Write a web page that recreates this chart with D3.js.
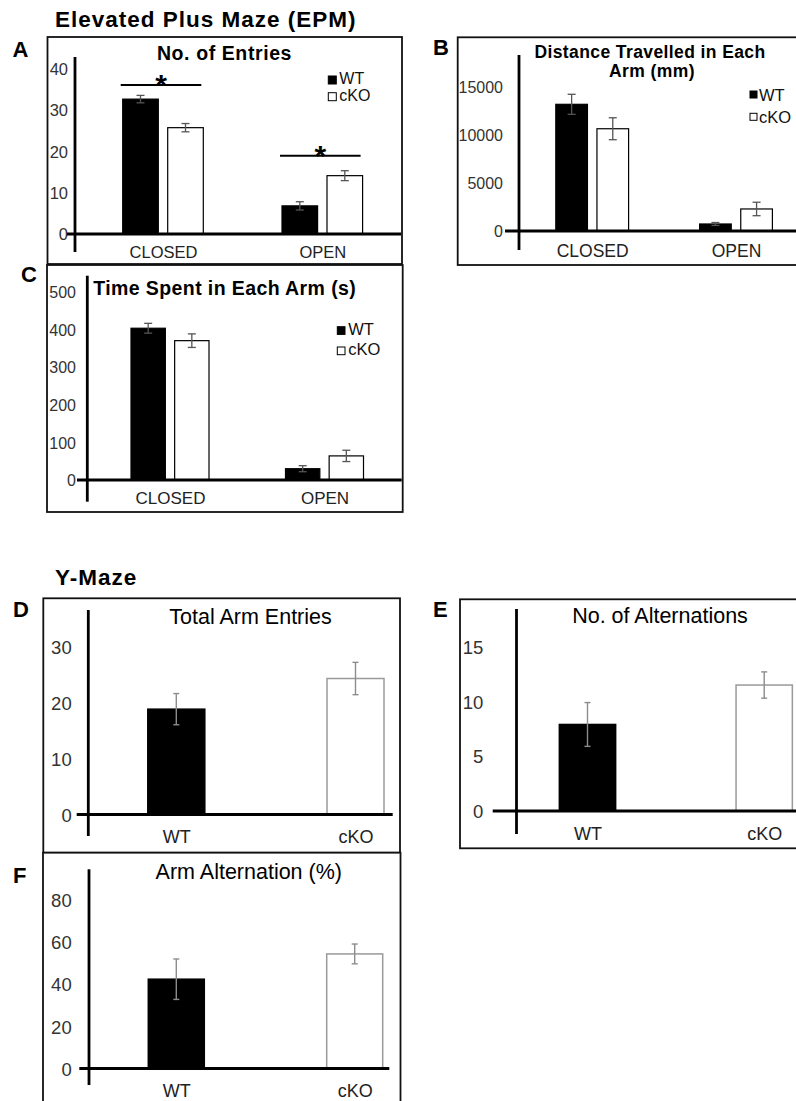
<!DOCTYPE html>
<html>
<head>
<meta charset="utf-8">
<script src="https://cdn.jsdelivr.net/npm/d3@7/dist/d3.min.js"></script>
<style>
  html, body { margin: 0; padding: 0; background: #fff; }
  svg { display: block; }
</style>
</head>
<body>
<svg id="fig" width="796" height="1101"></svg>
<script>
// ---------------- Elevated Plus Maze (EPM) ----------------
const arms = ["CLOSED", "OPEN"];
const genotypes = ["WT", "cKO"];

const entriesTicks = [0, 10, 20, 30, 40];
const entriesWT = [32.6, 6.8];
const entriesCKO = [25.7, 14.1];
const entriesErrWT = [0.9, 1.0];
const entriesErrCKO = [1.0, 1.2];
const entriesSigLevel = [36.0, 18.9];   // height of the "*" bracket above each arm

const distanceTicks = [0, 5000, 10000, 15000];
const distanceWT = [13170, 730];
const distanceCKO = [10630, 2290];
const distanceErrWT = [1040, 150];
const distanceErrCKO = [1140, 700];

const timeTicks = [0, 100, 200, 300, 400, 500];
const timeWT = [403, 30];
const timeCKO = [370, 64];
const timeErrWT = [13, 8];
const timeErrCKO = [18, 15];

// ---------------- Y-Maze ----------------
const ymazeGroups = ["WT", "cKO"];
const armEntriesTicks = [0, 10, 20, 30];
const armEntries = [18.9, 24.4];
const armEntriesErr = [2.8, 2.9];
const alternationsTicks = [0, 5, 10, 15];
const alternations = [7.9, 11.5];
const alternationsErr = [2.0, 1.2];
const alternationPctTicks = [0, 20, 40, 60, 80];
const alternationPct = [42.4, 54.4];
const alternationPctErr = [9.6, 4.7];

// ---------------- drawing ----------------
const FONT = "'Liberation Sans', Arial, Helvetica, sans-serif";
const svg = d3.select("#fig");

function label(sel, x, y, str, o = {}) {
  return sel.append("text")
    .attr("x", x).attr("y", y).text(str)
    .attr("font-family", FONT)
    .attr("font-size", o.size || 16)
    .attr("font-weight", o.bold ? "bold" : "normal")
    .attr("letter-spacing", o.ls || null)
    .attr("text-anchor", o.anchor || "start")
    .attr("fill", o.fill || "#000");
}

function panelBase(L, ticks) {
  const g = svg.append("g");
  g.append("rect")
    .attr("x", L.frame[0]).attr("y", L.frame[1])
    .attr("width", L.frame[2] - L.frame[0]).attr("height", L.frame[3] - L.frame[1])
    .attr("fill", "#fff").attr("stroke", "#111").attr("stroke-width", 1.8);
  const y = d3.scaleLinear().domain([0, d3.max(ticks)]).range([L.baseY, L.topY]);
  g.append("g")
    .attr("transform", `translate(${L.tickX},0)`)
    .call(d3.axisLeft(y).tickValues(ticks).tickSize(0).tickPadding(0).tickFormat(d3.format("d")))
    .call(a => a.select(".domain").remove())
    .attr("font-family", FONT).attr("font-size", L.tickFont)
    .selectAll("text").attr("fill", "#333").attr("dy", "0.36em");
  return { g, y };
}

function axisLines(g, L) {
  g.append("line")
    .attr("x1", L.xAxis[0]).attr("x2", L.xAxis[1])
    .attr("y1", L.baseY).attr("y2", L.baseY)
    .attr("stroke", "#000").attr("stroke-width", 2.8);
  g.append("line")
    .attr("x1", L.axisX).attr("x2", L.axisX)
    .attr("y1", L.yAxis[0]).attr("y2", L.yAxis[1])
    .attr("stroke", "#000").attr("stroke-width", 2.8);
}

function errorBars(g, rows, xc, y, cap, color, width) {
  const eb = g.append("g").attr("stroke", color).attr("stroke-width", width)
    .selectAll("g").data(rows).join("g");
  eb.append("line")
    .attr("x1", xc).attr("x2", xc)
    .attr("y1", d => y(d.v - d.e)).attr("y2", d => y(d.v + d.e));
  [1, -1].forEach(s => {
    eb.append("line")
      .attr("x1", d => xc(d) - cap / 2).attr("x2", d => xc(d) + cap / 2)
      .attr("y1", d => y(d.v + s * d.e)).attr("y2", d => y(d.v + s * d.e));
  });
}

function categoryLabels(g, L, scale) {
  g.append("g")
    .attr("transform", `translate(0,${L.labelY})`)
    .call(d3.axisBottom(scale).tickSize(0))
    .call(a => a.select(".domain").remove())
    .attr("font-family", FONT).attr("font-size", L.labelFont)
    .selectAll("text").attr("y", 0).attr("dy", 0).attr("fill", "#222");
}

function groupedPanel(L, ticks, wt, cko, errWT, errCKO) {
  const { g, y } = panelBase(L, ticks);
  const x0 = d3.scalePoint().domain(arms).range(L.centers);
  const x1 = d3.scaleBand().domain(genotypes)
    .range([-L.pair / 2, L.pair / 2])
    .paddingInner(2 * L.gap / (L.pair + L.gap));
  const vals = { WT: wt, cKO: cko };
  const errs = { WT: errWT, cKO: errCKO };
  const rows = arms.flatMap((a, i) => genotypes.map(k => ({ arm: a, gt: k, v: vals[k][i], e: errs[k][i] })));

  g.append("g").selectAll("rect").data(rows).join("rect")
    .attr("x", d => x0(d.arm) + x1(d.gt))
    .attr("width", x1.bandwidth())
    .attr("y", d => y(d.v))
    .attr("height", d => y(0) - y(d.v))
    .attr("fill", d => d.gt === "WT" ? "#000" : "#fff")
    .attr("stroke", "#000").attr("stroke-width", 1.2);

  const xc = d => x0(d.arm) + x1(d.gt) + x1.bandwidth() / 2;
  errorBars(g, rows, xc, y, 8, "#555", 1.3);
  axisLines(g, L);
  categoryLabels(g, L, x0);

  // legend
  const lg = g.append("g");
  genotypes.forEach((k, i) => {
    lg.append("rect")
      .attr("x", L.legend.x).attr("y", L.legend.y + i * L.legend.step)
      .attr("width", L.legend.size).attr("height", L.legend.size)
      .attr("fill", k === "WT" ? "#000" : "#fff")
      .attr("stroke", "#000").attr("stroke-width", 1);
    label(lg, L.legend.x + L.legend.textDx, L.legend.y + i * L.legend.step + L.legend.textDy, k,
      { size: L.legend.font, fill: "#111" });
  });
  return { g, y, x0, x1 };
}

function singlePanel(L, ticks, values, errs) {
  const { g, y } = panelBase(L, ticks);
  const x = d3.scalePoint().domain(ymazeGroups).range(L.centers);
  const rows = ymazeGroups.map((k, i) => ({ gt: k, v: values[i], e: errs[i] }));

  g.append("g").selectAll("rect").data(rows).join("rect")
    .attr("x", d => x(d.gt) - L.barW / 2)
    .attr("width", L.barW)
    .attr("y", d => y(d.v))
    .attr("height", d => y(0) - y(d.v))
    .attr("fill", d => d.gt === "WT" ? "#000" : "#fff")
    .attr("stroke", d => d.gt === "WT" ? "#000" : "#9a9a9a")
    .attr("stroke-width", 1.5);

  errorBars(g, rows, d => x(d.gt), y, 6, "#8c8c8c", 1.4);
  axisLines(g, L);
  categoryLabels(g, L, x);
  return { g, y, x };
}

// ---- panel A: number of entries ----
const layoutA = {
  frame: [47.5, 37, 402, 264], baseY: 234, topY: 68.5,
  axisX: 75, yAxis: [57, 252], xAxis: [67, 401],
  tickX: 68, tickFont: 16.5,
  centers: [163, 322.3], pair: 80.6, gap: 9.4,
  labelY: 258.3, labelFont: 16.5,
  legend: { x: 328.3, y: 76, size: 8, step: 16.7, textDx: 11, textDy: 8, font: 16 }
};
const A = groupedPanel(layoutA, entriesTicks, entriesWT, entriesCKO, entriesErrWT, entriesErrCKO);
// significance brackets
arms.forEach((a, i) => {
  const x0 = A.x0(a) + A.x1("WT") - 2;
  const x1 = A.x0(a) + A.x1("cKO") + A.x1.bandwidth() - 2;
  const yy = A.y(entriesSigLevel[i]);
  A.g.append("line").attr("x1", x0).attr("x2", x1).attr("y1", yy).attr("y2", yy)
    .attr("stroke", "#000").attr("stroke-width", 2);
  label(A.g, (x0 + x1) / 2, yy + 10, "*", { size: 30, bold: true, anchor: "middle" });
});
label(A.g, 224.5, 60, "No. of Entries", { size: 19.5, bold: true, ls: 0.6, anchor: "middle" });

// ---- panel B: distance travelled ----
const layoutB = {
  frame: [457.7, 37.3, 800, 265], baseY: 231, topY: 86.7,
  axisX: 519, yAxis: [55, 250], xAxis: [505, 796],
  tickX: 503, tickFont: 16,
  centers: [592.2, 736], pair: 72.8, gap: 9.5,
  labelY: 256.7, labelFont: 17.5,
  legend: { x: 750, y: 91, size: 7, step: 22.3, textDx: 9, textDy: 10, font: 16.5 }
};
const B = groupedPanel(layoutB, distanceTicks, distanceWT, distanceCKO, distanceErrWT, distanceErrCKO);
label(B.g, 650, 58.3, "Distance Travelled in Each", { size: 17.5, bold: true, ls: 0.4, anchor: "middle" });
label(B.g, 652, 76.7, "Arm (mm)", { size: 17.5, bold: true, ls: 0.4, anchor: "middle" });

// ---- panel C: time spent ----
const layoutC = {
  frame: [47, 265, 402.7, 512], baseY: 480, topY: 291.7,
  axisX: 87.3, yAxis: [275.7, 501.7], xAxis: [77, 401.7],
  tickX: 76, tickFont: 16,
  centers: [170, 324.5], pair: 78, gap: 9.3,
  labelY: 504.3, labelFont: 17,
  legend: { x: 337.3, y: 326.7, size: 7.7, step: 20.3, textDx: 11, textDy: 7.8, font: 16.5 }
};
const C = groupedPanel(layoutC, timeTicks, timeWT, timeCKO, timeErrWT, timeErrCKO);
label(C.g, 93.3, 295, "Time Spent in Each Arm (s)", { size: 19.5, bold: true, ls: 0.4 });

// ---- panel D: total arm entries ----
const layoutD = {
  frame: [43.3, 598.3, 400, 852.7], baseY: 814.5, topY: 647.3,
  axisX: 88.3, yAxis: [610, 836], xAxis: [76.7, 392.7],
  tickX: 71.7, tickFont: 18.5,
  centers: [176.3, 355.5], barW: 57,
  labelY: 842.7, labelFont: 18
};
const D = singlePanel(layoutD, armEntriesTicks, armEntries, armEntriesErr);
label(D.g, 250.5, 624, "Total Arm Entries", { size: 21.5, anchor: "middle" });

// ---- panel E: number of alternations ----
const layoutE = {
  frame: [460, 599.3, 800, 848.3], baseY: 811, topY: 646.7,
  axisX: 516.5, yAxis: [609, 834], xAxis: [492.7, 796],
  tickX: 483.3, tickFont: 18.5,
  centers: [587.5, 764.2], barW: 56.3,
  labelY: 839.5, labelFont: 18
};
const E = singlePanel(layoutE, alternationsTicks, alternations, alternationsErr);
label(E.g, 660, 623.3, "No. of Alternations", { size: 21.5, anchor: "middle" });

// ---- panel F: arm alternation (%) ----
const layoutF = {
  frame: [43, 852.7, 400.5, 1110], baseY: 1068.5, topY: 900,
  axisX: 89, yAxis: [869.3, 1085], xAxis: [79.3, 389.3],
  tickX: 71.7, tickFont: 18.5,
  centers: [176.3, 354.7], barW: 56,
  labelY: 1096.7, labelFont: 18
};
const F = singlePanel(layoutF, alternationPctTicks, alternationPct, alternationPctErr);
label(F.g, 248.8, 879.3, "Arm Alternation (%)", { size: 21.5, anchor: "middle" });

// ---- section headings and panel letters ----
label(svg, 55, 26.5, "Elevated Plus Maze (EPM)", { size: 22.5, bold: true, ls: 1 });
label(svg, 55, 585, "Y-Maze", { size: 22.5, bold: true, ls: 1 });
[["A", 12.5, 56.5], ["B", 433, 55], ["C", 21, 282], ["D", 13, 617], ["E", 433, 617], ["F", 13, 883]]
  .forEach(([t, x, y]) => label(svg, x, y, t, { size: 22, bold: true }));
</script>
</body>
</html>
